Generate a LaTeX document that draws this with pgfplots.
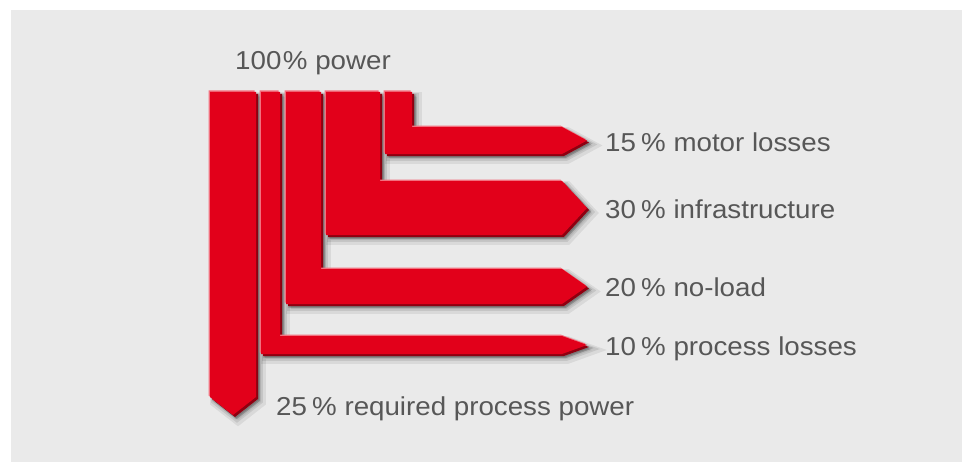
\documentclass[border=0pt]{standalone}
\usepackage{pgfplots}
\usepackage{pgfplotstable}
\pgfplotsset{compat=1.18}
\usepackage{fontspec}
\setmainfont[FakeStretch=1.07]{Liberation Sans}
\definecolor{flowred}{HTML}{E2001A}
\definecolor{flowdark}{HTML}{8E0010}
\definecolor{flowlight}{HTML}{F2707E}
\definecolor{bggray}{HTML}{EAEAEA}
\definecolor{txtgray}{HTML}{575757}

% outlines of the flows, in pixels, y downwards
\pgfplotstableread{
x y
210 92
256 92
256 397
233 415
210 397
210 92
}\required
\pgfplotstableread{
x y
261 92
280 92
280 336
562 336
587 345
562 354
261 354
261 92
}\process
\pgfplotstableread{
x y
286 92
321 92
321 269
562 269
587 286.5
562 304
286 304
286 92
}\noload
\pgfplotstableread{
x y
326 92
380 92
380 181
562 181
587 208
562 235
326 235
326 92
}\infra
\pgfplotstableread{
x y
385 92
412 92
412 127
562 127
587 140.5
562 154
385 154
385 92
}\motor

\newcommand\flowshadow[1]{%
  \addplot[fill=black, fill opacity=0.07, draw=black, draw opacity=0.07, line width=10]
    table[x expr=\thisrow{x}+5, y expr=\thisrow{y}+5] {#1};
  \addplot[fill=black, fill opacity=0.09, draw=black, draw opacity=0.09, line width=6]
    table[x expr=\thisrow{x}+4, y expr=\thisrow{y}+4] {#1};
  \addplot[fill=black, fill opacity=0.14, draw=black, draw opacity=0.14, line width=2.5]
    table[x expr=\thisrow{x}+3, y expr=\thisrow{y}+3] {#1};
}
\newcommand\flowbody[1]{%
  \addplot[fill=flowdark, draw=none] table[x expr=\thisrow{x}+2, y expr=\thisrow{y}+2] {#1};
  \addplot[fill=flowlight, draw=none] table[x expr=\thisrow{x}-1.5, y expr=\thisrow{y}-1.5] {#1};
  \addplot[fill=flowred, draw=none] table {#1};
}

\begin{document}
\begin{tikzpicture}
\begin{axis}[
  width=963bp, height=462bp, scale only axis,
  xmin=0, xmax=963, ymin=0, ymax=462, y dir=reverse,
  hide axis, clip=false,
]
\path[fill=white] (axis cs:0,0) rectangle (axis cs:963,462);
\path[fill=bggray] (axis cs:11,10) rectangle (axis cs:962,462);
\flowshadow{\required}
\flowshadow{\process}
\flowshadow{\noload}
\flowshadow{\infra}
\flowshadow{\motor}
\flowbody{\required}
\flowbody{\process}
\flowbody{\noload}
\flowbody{\infra}
\flowbody{\motor}
\begin{scope}[every node/.style={anchor=base west, text=txtgray, font=\fontsize{26}{30}\selectfont, inner sep=0pt}]
\node at (axis cs:235,70) {100\hspace{0.06em}\% power};
\node at (axis cs:605,151) {15\hspace{0.2em}\% motor losses};
\node at (axis cs:605,218) {30\hspace{0.2em}\% infrastructure};
\node at (axis cs:605,296) {20\hspace{0.2em}\% no-load};
\node at (axis cs:605,355) {10\hspace{0.2em}\% process losses};
\node at (axis cs:276,415) {25\hspace{0.2em}\% required process power};
\end{scope}
\end{axis}
\end{tikzpicture}
\end{document}
